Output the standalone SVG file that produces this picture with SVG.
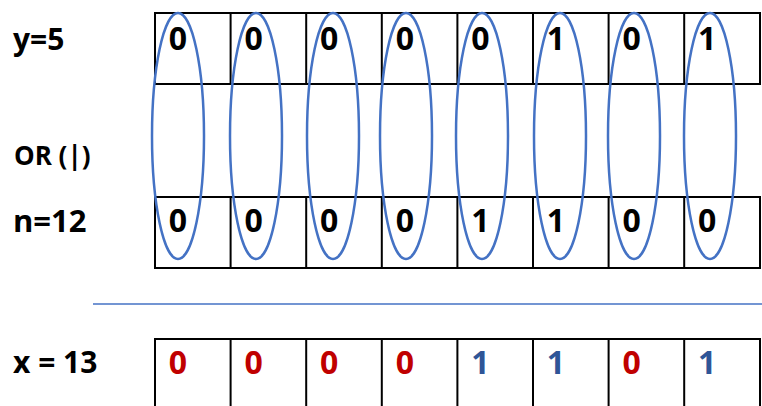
<svg xmlns="http://www.w3.org/2000/svg" width="762" height="406" viewBox="0 0 762 406">
  <style>
    .cell { fill: #ffffff; stroke: #000000; stroke-width: 2; }
    .grid { stroke: #000000; stroke-width: 2; fill: none; }
    .label { font-family: "Open Sans", "Liberation Sans", sans-serif; font-weight: 700; fill: #000000; }
    .bit { font-family: "Open Sans", "Liberation Sans", sans-serif; font-weight: 700; font-size: 32px; text-anchor: middle; fill: #000000; }
    .zero { fill: #C00000; }
    .one { fill: #2F5597; }
    .ring { fill: none; stroke: #4472C4; stroke-width: 2.5; }
    .rule { stroke: #4472C4; stroke-width: 1.5; }
  </style>

  <!-- row labels -->
  <g id="label-y">
    <text class="label" x="13" y="50" font-size="30">y=5</text>
  </g>
  <g id="label-or">
    <text class="label" x="14" y="165" font-size="26">OR (|)</text>
  </g>
  <g id="label-n">
    <text class="label" x="13" y="232" font-size="31">n=12</text>
  </g>
  <g id="label-x">
    <text class="label" x="13" y="373" font-size="30">x = 13</text>
  </g>

  <!-- operand y = 5 -->
  <g id="row-y">
    <rect class="cell" x="155" y="13" width="605" height="71"/>
    <path class="grid" d="M230.6 13V84M306.2 13V84M381.8 13V84M457.4 13V84M533 13V84M608.6 13V84M684.2 13V84"/>
    <text class="bit" x="178" y="50">0</text>
    <text class="bit" x="253.6" y="50">0</text>
    <text class="bit" x="329.2" y="50">0</text>
    <text class="bit" x="404.8" y="50">0</text>
    <text class="bit" x="480.4" y="50">0</text>
    <text class="bit" x="556" y="50">1</text>
    <text class="bit" x="631.6" y="50">0</text>
    <text class="bit" x="707.2" y="50">1</text>
  </g>

  <!-- operand n = 12 -->
  <g id="row-n">
    <rect class="cell" x="155" y="197" width="605" height="71"/>
    <path class="grid" d="M230.6 197V268M306.2 197V268M381.8 197V268M457.4 197V268M533 197V268M608.6 197V268M684.2 197V268"/>
    <text class="bit" x="178" y="232">0</text>
    <text class="bit" x="253.6" y="232">0</text>
    <text class="bit" x="329.2" y="232">0</text>
    <text class="bit" x="404.8" y="232">0</text>
    <text class="bit" x="480.4" y="232">1</text>
    <text class="bit" x="556" y="232">1</text>
    <text class="bit" x="631.6" y="232">0</text>
    <text class="bit" x="707.2" y="232">0</text>
  </g>

  <!-- result x = 13 -->
  <g id="row-x">
    <rect class="cell" x="155" y="339" width="605" height="80"/>
    <path class="grid" d="M230.6 339V406M306.2 339V406M381.8 339V406M457.4 339V406M533 339V406M608.6 339V406M684.2 339V406"/>
    <text class="bit zero" x="178" y="374">0</text>
    <text class="bit zero" x="253.6" y="374">0</text>
    <text class="bit zero" x="329.2" y="374">0</text>
    <text class="bit zero" x="404.8" y="374">0</text>
    <text class="bit one" x="480.4" y="374">1</text>
    <text class="bit one" x="556" y="374">1</text>
    <text class="bit zero" x="631.6" y="374">0</text>
    <text class="bit one" x="707.2" y="374">1</text>
  </g>

  <!-- column pairings and result rule -->
  <g id="connectors">
    <ellipse class="ring" cx="178" cy="136" rx="26" ry="123"/>
    <ellipse class="ring" cx="256" cy="136" rx="26" ry="123"/>
    <ellipse class="ring" cx="333" cy="136" rx="26" ry="123"/>
    <ellipse class="ring" cx="406" cy="136" rx="26" ry="123"/>
    <ellipse class="ring" cx="482" cy="136" rx="26" ry="123"/>
    <ellipse class="ring" cx="560" cy="136" rx="26" ry="123"/>
    <ellipse class="ring" cx="634" cy="136" rx="26" ry="123"/>
    <ellipse class="ring" cx="710" cy="136" rx="26" ry="123"/>
    <line class="rule" x1="93" y1="304" x2="762" y2="304"/>
  </g>
</svg>
